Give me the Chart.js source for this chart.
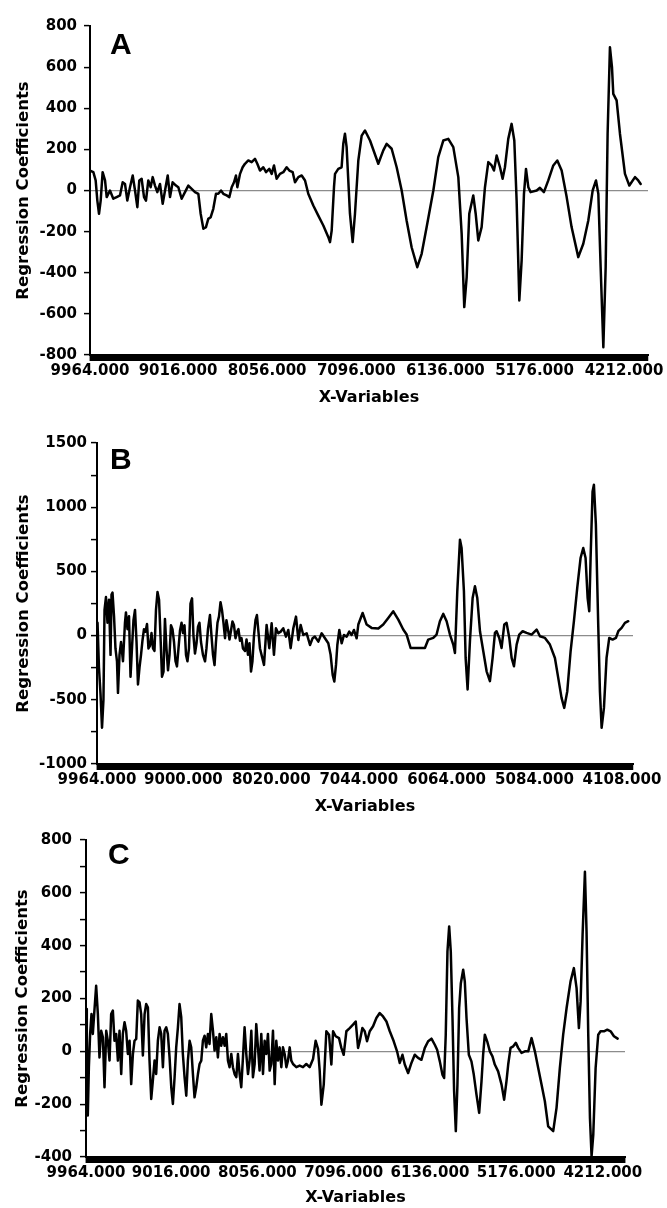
<!DOCTYPE html>
<html>
<head>
<meta charset="utf-8">
<script src="https://cdn.jsdelivr.net/npm/chart.js@4.4.0/dist/chart.umd.min.js"></script>
<style>
  body { margin: 0; background: #fff; width: 667px; height: 1208px; position: relative; overflow: hidden; }
  .panel { position: absolute; left: 0; width: 667px; }
  .letter { position: absolute; font: bold 30px "Liberation Sans", Arial, sans-serif; line-height: 30px; color: #000; }
</style>
</head>
<body>
<div class="panel" style="top:0;height:410px"><canvas id="chartA"></canvas></div>
<div class="panel" style="top:410px;height:408px"><canvas id="chartB"></canvas></div>
<div class="panel" style="top:818px;height:390px"><canvas id="chartC"></canvas></div>
<div class="letter" style="left:110px;top:29px">A</div>
<div class="letter" style="left:110px;top:444px">B</div>
<div class="letter" style="left:108px;top:839px">C</div>
<script>
// panel A
const wavenumbersA = [9964, 9928, 9903, 9885, 9867, 9849, 9828, 9802, 9784, 9749, 9713, 9677, 9641, 9612, 9587, 9562,
  9533, 9504, 9479, 9454, 9433, 9408, 9382, 9361, 9336, 9311, 9289, 9264, 9239, 9210, 9181, 9156, 9127, 9102, 9074,
  9038, 9013, 8977, 8941, 8905, 8869, 8833, 8797, 8772, 8743, 8715, 8690, 8664, 8636, 8607, 8582, 8553, 8528, 8492,
  8463, 8438, 8413, 8392, 8377, 8348, 8320, 8295, 8259, 8223, 8187, 8162, 8133, 8097, 8068, 8033, 8007, 7982, 7954,
  7918, 7882, 7846, 7817, 7781, 7756, 7720, 7684, 7648, 7613, 7559, 7505, 7451, 7397, 7379, 7361, 7336, 7325, 7290,
  7254, 7236, 7218, 7200, 7164, 7135, 7110, 7074, 7038, 7002, 6948, 6859, 6805, 6769, 6715, 6661, 6607, 6554, 6500,
  6439, 6392, 6338, 6266, 6213, 6159, 6105, 6051, 5997, 5961, 5933, 5907, 5879, 5836, 5810, 5782, 5746, 5710, 5674,
  5638, 5613, 5584, 5548, 5520, 5495, 5459, 5423, 5394, 5369, 5340, 5315, 5290, 5268, 5243, 5218, 5153, 5118, 5075,
  5028, 4974, 4931, 4884, 4830, 4777, 4705, 4651, 4597, 4550, 4514, 4489, 4464, 4435, 4410, 4389, 4364, 4342, 4328,
  4292, 4256, 4202, 4155, 4094, 4059, 4033]
const coeffsA = [97, 89, 49, -49, -113, -49, 89, 49, -32, 0, -40, -32, -24, 40, 32, -49,
  16, 73, 0, -81, 49, 57, -32, -49, 49, 16, 65, 24, -8, 32, -65, 0, 73, -32, 40,
  24, 16, -40, -8, 24, 8, -8, -16, -113, -186, -178, -138, -130, -89, -16, -16, 0, -16, -24,
  -32, 16, 40, 73, 16, 81, 113, 130, 146, 138, 154, 130, 97, 113, 89, 105, 81, 122, 57,
  81, 89, 113, 97, 89, 40, 65, 73, 49, -16, -73, -122, -170, -227, -251, -195, 16, 81, 105,
  113, 227, 276, 211, -113, -251, -113, 146, 267, 292, 243, 130, 195, 227, 203, 113, 0, -146, -276,
  -373, -308, -178, 0, 162, 243, 251, 211, 65, -211, -567, -421, -113, -24, -113, -243, -178, 16, 138,
  122, 97, 170, 113, 57, 113, 251, 324, 243, -49, -535, -340, -16, 105, 16, -8, 0, 13, -8,
  49, 122, 146, 97, -32, -178, -324, -259, -146, 0, 49, -16, -373, -762, -373, 276, 697, 600, 470,
  438, 276, 81, 24, 65, 49, 32]
const tickLabelsA = [9964, 9016, 8056, 7096, 6136, 5176, 4212]

// panel B
const wavenumbersB = [9958, 9942, 9925, 9908, 9892, 9880, 9864, 9847, 9830, 9813, 9802, 9791, 9774, 9758, 9741, 9730,
  9713, 9696, 9674, 9652, 9641, 9624, 9607, 9590, 9574, 9557, 9540, 9523, 9507, 9490, 9473, 9457, 9440, 9423, 9406,
  9390, 9373, 9356, 9339, 9323, 9306, 9289, 9272, 9256, 9239, 9222, 9206, 9189, 9172, 9155, 9139, 9122, 9105, 9088,
  9072, 9055, 9038, 9021, 9005, 8988, 8971, 8955, 8938, 8921, 8904, 8888, 8871, 8854, 8837, 8821, 8804, 8782, 8759,
  8743, 8726, 8704, 8687, 8670, 8653, 8637, 8620, 8603, 8586, 8570, 8553, 8536, 8520, 8503, 8486, 8469, 8453, 8436,
  8419, 8402, 8386, 8369, 8352, 8336, 8313, 8296, 8280, 8263, 8246, 8230, 8213, 8196, 8180, 8163, 8146, 8101, 8072,
  8042, 8016, 7990, 7968, 7942, 7915, 7886, 7856, 7830, 7804, 7774, 7744, 7718, 7692, 7663, 7625, 7588, 7559, 7533,
  7495, 7458, 7421, 7384, 7358, 7335, 7317, 7298, 7283, 7261, 7235, 7209, 7179, 7150, 7124, 7098, 7068, 7049, 7001,
  6956, 6901, 6826, 6771, 6715, 6659, 6603, 6548, 6510, 6466, 6417, 6362, 6306, 6269, 6213, 6176, 6139, 6101, 6064,
  6027, 5990, 5971, 5945, 5915, 5897, 5871, 5852, 5830, 5804, 5774, 5748, 5722, 5692, 5655, 5618, 5581, 5551, 5525,
  5507, 5477, 5451, 5421, 5395, 5365, 5339, 5313, 5283, 5254, 5216, 5172, 5116, 5060, 5023, 4967, 4912, 4856, 4819,
  4782, 4752, 4718, 4681, 4644, 4607, 4570, 4540, 4514, 4491, 4473, 4458, 4436, 4421, 4399, 4373, 4354, 4335, 4309,
  4280, 4250, 4213, 4175, 4149, 4112, 4075, 4038]
const coeffsB = [100, -250, -450, -718, -500, 200, 300, 100, 280, -150, 320, 335, 150, -100, -200, -446,
  -150, -50, -200, 100, 180, 50, 150, -320, -100, 120, 200, -50, -380, -250, -150, -40, 50, 30, 90,
  -100, -80, 20, -100, -120, 200, 340, 280, 0, -320, -280, 130, -100, -270, -150, 80, 50, -50, -200,
  -240, -100, 40, 100, 20, 80, -150, -200, -100, 250, 290, 0, -140, -60, 70, 100, -50, -150, -200,
  -100, 50, 160, 0, -150, -230, -50, 100, 150, 260, 200, 100, -20, 120, 50, -30, 40, 110, 80,
  -20, 30, 50, -40, -20, -100, -120, -30, -150, -60, -280, -200, 0, 120, 160, 30, -100, -228, 83,
  -98, 96, -150, 57, 18, 31, 57, -8, 44, -98, 57, 148, -34, 83, 5, 18, -73, -21, -8,
  -47, 18, -21, -60, -150, -306, -358, -228, -73, 44, -60, 5, -8, 31, 5, 44, -21, 86, 176,
  86, 60, 55, 86, 138, 189, 124, 47, 8, -96, -96, -96, -96, -31, -18, 8, 112, 169, 112,
  8, -70, -135, 345, 747, 682, 345, -174, -420, -44, 293, 384, 293, 34, -122, -278, -355, -174, 21,
  34, -18, -96, 86, 99, -18, -174, -239, -70, 8, 34, 21, 8, 47, -5, -18, -70, -174, -329,
  -485, -563, -433, -122, 112, 371, 604, 682, 604, 293, 189, 604, 1123, 1175, 864, 86, -433, -718, -563,
  -174, -18, -31, -18, 34, 60, 99, 112]
const tickLabelsB = [9964, 9000, 8020, 7044, 6064, 5084, 4108]

// panel C
const wavenumbersC = [9964, 9955, 9944, 9932, 9918, 9903, 9888, 9873, 9851, 9832, 9814, 9795, 9776, 9758, 9739, 9721,
  9702, 9684, 9665, 9647, 9628, 9609, 9591, 9572, 9554, 9535, 9517, 9498, 9479, 9461, 9442, 9424, 9405, 9387, 9368,
  9350, 9331, 9312, 9294, 9275, 9257, 9238, 9220, 9201, 9183, 9164, 9145, 9127, 9108, 9090, 9071, 9053, 9034, 9015,
  8997, 8978, 8960, 8941, 8923, 8904, 8886, 8867, 8848, 8830, 8811, 8793, 8774, 8756, 8737, 8718, 8700, 8681, 8663,
  8644, 8626, 8607, 8589, 8570, 8551, 8533, 8514, 8496, 8477, 8459, 8440, 8421, 8403, 8384, 8366, 8347, 8329, 8310,
  8291, 8273, 8254, 8236, 8217, 8199, 8180, 8161, 8143, 8124, 8106, 8087, 8069, 8050, 8032, 8013, 7994, 7976, 7957,
  7939, 7920, 7902, 7883, 7864, 7846, 7827, 7809, 7790, 7772, 7753, 7734, 7716, 7697, 7679, 7660, 7623, 7586, 7549,
  7512, 7475, 7437, 7408, 7382, 7363, 7344, 7318, 7289, 7259, 7233, 7214, 7185, 7148, 7122, 7096, 7066, 7029, 6992,
  6962, 6936, 6917, 6888, 6862, 6836, 6806, 6769, 6732, 6695, 6658, 6620, 6583, 6539, 6502, 6472, 6442, 6416, 6379,
  6342, 6305, 6268, 6231, 6193, 6156, 6119, 6082, 6056, 6026, 5997, 5978, 5960, 5941, 5922, 5904, 5885, 5867, 5848,
  5830, 5811, 5792, 5766, 5748, 5729, 5703, 5674, 5648, 5618, 5588, 5562, 5544, 5525, 5499, 5469, 5440, 5414, 5377,
  5339, 5310, 5284, 5265, 5239, 5209, 5180, 5154, 5117, 5079, 5042, 5005, 4968, 4931, 4894, 4857, 4820, 4764, 4727,
  4690, 4653, 4615, 4571, 4534, 4504, 4478, 4459, 4437, 4411, 4393, 4374, 4355, 4337, 4318, 4292, 4263, 4237, 4199,
  4162, 4125, 4088, 4047]
const coeffsC = [160, 66, -243, -60, 66, 141, 66, 141, 248, 141, -23, 78, 53, -136, 78, 40,
  -35, 141, 154, 40, 66, -35, 78, -86, 66, 110, 78, -10, 40, -124, -10, 40, 47, 192, 185,
  141, -16, 141, 179, 166, -35, -180, -111, -35, -86, 40, 91, 66, -60, 78, 91, 66, -23, -136,
  -199, -98, 15, 91, 179, 129, -10, -98, -168, -35, 40, 15, -86, -174, -136, -86, -48, -35, 40,
  59, 15, 66, 28, 141, 78, 3, 53, -23, 66, 21, 53, 21, 66, -35, -60, -10, -60, -86,
  -98, -10, -86, -136, -23, 91, -10, -86, -35, 78, -98, -48, 103, 15, -73, 66, -86, 40, -10,
  66, -73, -48, 78, -124, 40, -35, 15, -60, 15, -10, -60, -35, 15, -35, -48, -60, -54, -60,
  -48, -60, -29, 40, 9, -73, -202, -126, 76, 63, -50, 76, 57, 50, 13, -13, 76, 88, 101,
  113, 13, 38, 88, 76, 38, 76, 95, 126, 145, 132, 113, 76, 38, 0, -44, -13, -50, -82,
  -44, -13, -25, -32, 13, 38, 48, 25, 6, -38, -88, -101, 63, 378, 473, 378, 126, -151, -302,
  -126, 164, 258, 309, 265, 126, -13, -38, -88, -164, -233, -113, -13, 63, 38, 0, -19, -50, -76,
  -126, -183, -113, -50, 13, 19, 32, 13, -6, 0, 0, 50, 0, -63, -126, -189, -284, -302, -214,
  -63, 63, 164, 265, 315, 239, 88, 189, 441, 680, 454, 63, -252, -397, -315, -63, 63, 76, 76,
  82, 76, 57, 48]

const tickFont = { family: 'DejaVu Sans', size: 15, weight: 'bold' }
const titleFont = { family: 'DejaVu Sans', size: 16, weight: 'bold' }
const yTitleFont = { family: 'DejaVu Sans', size: 16.5, weight: 'bold' }

// x axis ticks: the label positions plus a dense comb that forms the black bar under the axis
const axisTicks = (end, labels) => {
  const t = labels.map(v => ({ value: v }))
  for (let v = 9960; v > end; v -= 8) {
    if (!labels.includes(v)) t.push({ value: v })
  }
  return t.sort((a, b) => a.value - b.value)
}

const makePanel = (id, xs, ys, p) => {
  const ctx = document.getElementById(id)
  return new Chart(ctx, {
    type: 'line',
    data: {
      datasets: [{
        data: xs.map((x, i) => ({ x: x, y: ys[i] })),
        borderColor: '#000',
        borderWidth: 2.5,
        borderJoinStyle: 'round',
        borderCapStyle: 'round',
        pointRadius: 0,
        tension: 0,
        fill: false
      }]
    },
    options: {
      animation: false,
      responsive: true,
      maintainAspectRatio: false,
      layout: { padding: { top: p.top, right: p.right, left: 0, bottom: 0 } },
      plugins: { legend: { display: false }, tooltip: { enabled: false } },
      scales: {
        x: {
          type: 'linear',
          reverse: true,
          min: p.xEnd,
          max: 9964,
          afterBuildTicks: scale => { scale.ticks = axisTicks(p.xEnd, p.labels) },
          afterFit: scale => { scale.height = p.xHeight },
          border: { color: '#000', width: 2 },
          grid: { color: 'rgba(0,0,0,0)', tickColor: '#000', tickLength: 6, tickWidth: 1.5 },
          ticks: {
            autoSkip: false, maxRotation: 0, minRotation: 0, padding: 1, color: '#000', font: tickFont,
            callback: v => p.labels.includes(v) ? v.toFixed(3) : ''
          },
          title: { display: true, text: 'X-Variables', color: '#000', font: titleFont, padding: { top: 0, bottom: p.titlePad } }
        },
        y: {
          min: p.yMin,
          max: p.yMax,
          afterFit: scale => { scale.width = p.left },
          border: { color: '#000', width: 2 },
          grid: {
            color: c => c.tick && c.tick.value === 0 ? '#8c8c8c' : 'rgba(0,0,0,0)',
            lineWidth: 1.2, tickColor: '#000', tickLength: 6, tickWidth: 1.5
          },
          ticks: {
            stepSize: p.minor, padding: p.yPad, color: '#000', font: tickFont,
            callback: v => v % p.major === 0 ? String(v) : ''
          },
          title: { display: true, text: 'Regression Coefficients', color: '#000', font: yTitleFont, padding: { top: p.yTitlePad, bottom: 0 } }
        }
      }
    }
  })
}

makePanel('chartA', wavenumbersA, coeffsA, {
  top: 26, right: 19, left: 90, xHeight: 55, titlePad: 3, xEnd: 3954, labels: tickLabelsA,
  yMin: -800, yMax: 800, minor: 100, major: 200, yPad: 7, yTitlePad: 14
})
makePanel('chartB', wavenumbersB, coeffsB, {
  top: 33, right: 34, left: 97, xHeight: 54, titlePad: 2, xEnd: 3985, labels: tickLabelsB,
  yMin: -1000, yMax: 1500, minor: 250, major: 500, yPad: 4, yTitlePad: 14
})
makePanel('chartC', wavenumbersC, coeffsC, {
  top: 22, right: 42, left: 86, xHeight: 51, titlePad: 1, xEnd: 3965, labels: tickLabelsA,
  yMin: -400, yMax: 800, minor: 100, major: 200, yPad: 8, yTitlePad: 13
})
</script>
</body>
</html>
